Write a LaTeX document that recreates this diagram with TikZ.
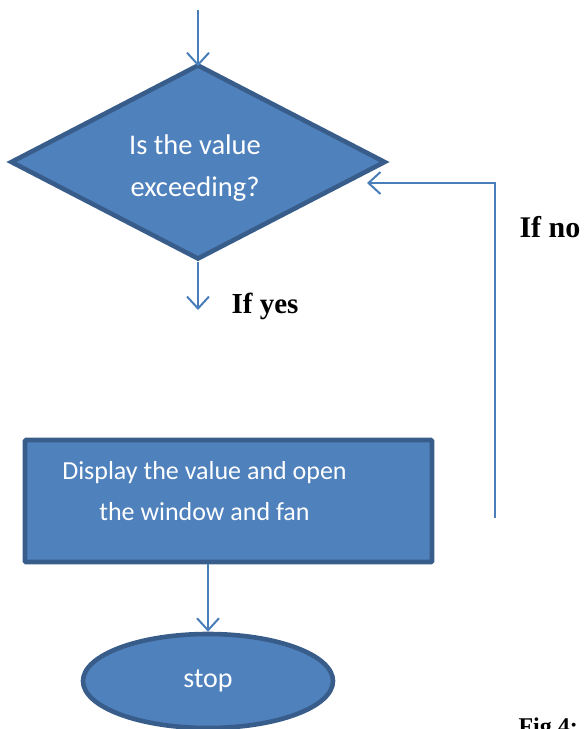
\documentclass[tikz,border=0pt]{standalone}
\usepackage{fontspec}
\setmainfont{Liberation Serif}
\newfontfamily\calib{Carlito}
\usetikzlibrary{arrows.meta, shapes.geometric, calc}
\definecolor{boxfill}{HTML}{4F81BD}
\definecolor{boxline}{HTML}{385D8A}
\definecolor{flowline}{HTML}{4A7EBB}

\begin{document}
\begin{tikzpicture}[
    x=1pt, y=-1pt,
    step box/.style={draw=boxline, fill=boxfill, line width=4.6pt},
    box text/.style={text=white, align=center, font=\calib\fontsize{28.5}{42}\selectfont},
    decide/.style={step box, diamond, minimum width=375pt, minimum height=195pt, inner sep=0pt},
    action/.style={step box, rectangle, rounded corners=1pt, minimum width=407pt, minimum height=122pt},
    ending/.style={step box, box text, ellipse, minimum width=250pt, minimum height=94pt, font=\calib\fontsize{28}{34}\selectfont},
    flow/.style={draw=flowline, line width=2pt, -{Straight Barb[length=12pt, width=22pt, line width=2pt]}},
    answer/.style={font=\bfseries\fontsize{29}{34}\selectfont, text=black}]
  \useasboundingbox (0,0) rectangle (587,729);
  \coordinate (start) at (198,10);
  \node[decide, label={[box text, xshift=-3pt, yshift=-6.5pt]center:Is the value\\exceeding?}] (check) at (198,162) {};
  \draw[flow, shorten >=-4pt] (start) -- (check.north);
  \coordinate (yesend) at (198,310);
  \draw[flow] (check.south) -- (yesend);
  \node[answer] (yes) at (265,306) {If yes};
  \node[action, label={[box text, font=\calib\fontsize{26}{41}\selectfont, xshift=-24pt, yshift=10pt]center:Display the value and open\\the window and fan}] (show) at (228.5,501) {};
  \coordinate (loopstart) at (495,518);
  \coordinate (loopend) at (367,183);
  \draw[flow] (loopstart) |- (loopend);
  \node[answer, font=\bfseries\fontsize{30}{34}\selectfont] (no) at (550,227) {If no};
  \node[ending] (stop) at (208,681) {stop};
  \draw[flow] (stop.north |- show.south) -- (stop.north);
  \node[answer, font=\bfseries\fontsize{24}{28}\selectfont, anchor=north west] (fig) at (515,714) {Fig 4:};
\end{tikzpicture}
\end{document}
